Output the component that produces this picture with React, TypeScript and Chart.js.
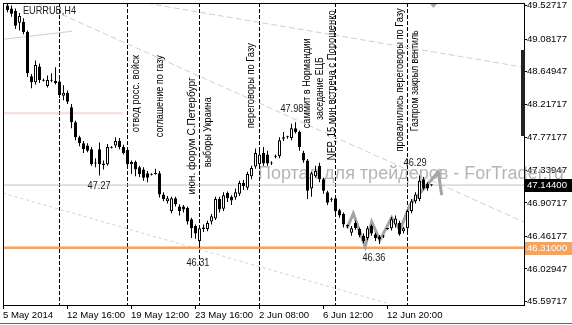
import React, { useEffect, useRef } from 'react';
import { Chart, registerables } from 'chart.js';

Chart.register(...registerables);

const symbolTitle = 'EURRUB,H4';
const watermark = 'Портал для трейдеров - ForTrader.ru';

// H4 candles (bar index = position)
const opens = [
  49.53, 49.49, 49.46, 49.30, 49.31, 49.18, 48.59, 48.51, 48.72, 48.54,
  48.46, 48.54, 48.53, 48.52, 48.33, 48.37, 48.18, 47.98, 47.78, 47.70,
  47.67, 47.62, 47.43, 47.62, 47.41, 47.42, 47.65, 47.67, 47.73, 47.65,
  47.61, 47.42, 47.45, 47.38, 47.35, 47.30, 47.29, 47.29, 47.30, 47.02,
  46.93, 46.80, 46.97, 46.86, 46.86, 46.84, 46.69, 46.60, 46.40, 46.58,
  46.56, 46.66, 46.70, 46.96, 46.83, 47.04, 46.99, 46.98, 47.03, 47.17,
  47.11, 47.26, 47.39, 47.42, 47.57, 47.55, 47.44, 47.52, 47.53, 47.76,
  47.78, 47.77, 47.90, 47.85, 47.57, 47.47, 47.10, 47.26, 47.40, 47.22,
  47.05, 46.95, 46.97, 46.81, 46.76, 46.60, 46.51, 46.64, 46.56, 46.47,
  46.44, 46.60, 46.49, 46.46, 46.47, 46.56, 46.57, 46.62, 46.64, 46.53,
  46.57, 46.80, 46.93, 46.96, 47.22, 47.16, 47.14,
];
const highs = [
  49.56, 49.53, 49.49, 49.43, 49.36, 49.20, 48.62, 48.80, 48.76, 48.56,
  48.60, 48.63, 48.71, 48.55, 48.47, 48.40, 48.22, 48.00, 47.80, 47.73,
  47.70, 47.65, 47.50, 47.71, 47.47, 47.69, 47.66, 47.78, 47.77, 47.68,
  47.63, 47.47, 47.47, 47.40, 47.38, 47.33, 47.30, 47.36, 47.33, 47.05,
  47.00, 46.99, 46.99, 46.89, 46.88, 46.86, 46.71, 46.62, 46.60, 46.62,
  46.67, 46.76, 46.99, 46.99, 47.05, 47.06, 47.01, 47.10, 47.20, 47.21,
  47.32, 47.40, 47.63, 47.65, 47.65, 47.60, 47.46, 47.55, 47.78, 47.85,
  47.80, 47.96, 47.98, 47.87, 47.60, 47.49, 47.32, 47.40, 47.44, 47.24,
  47.07, 46.98, 47.00, 46.83, 46.78, 46.62, 46.60, 46.67, 46.58, 46.50,
  46.60, 46.62, 46.51, 46.48, 46.48, 46.57, 46.72, 46.74, 46.67, 46.59,
  46.82, 46.96, 47.05, 47.27, 47.25, 47.18, 47.15,
];
const lows = [
  49.44, 49.38, 49.22, 49.20, 49.15, 48.58, 48.43, 48.48, 48.50, 48.52,
  48.44, 48.51, 48.48, 48.30, 48.27, 48.22, 47.90, 47.74, 47.66, 47.57,
  47.58, 47.40, 47.38, 47.27, 47.35, 47.40, 47.63, 47.64, 47.62, 47.55,
  47.40, 47.29, 47.26, 47.25, 47.20, 47.18, 47.27, 47.28, 46.98, 46.93,
  46.90, 46.77, 46.86, 46.74, 46.78, 46.62, 46.44, 46.43, 46.31, 46.52,
  46.53, 46.62, 46.68, 46.78, 46.80, 46.92, 46.88, 46.95, 47.00, 47.08,
  47.08, 47.22, 47.36, 47.40, 47.40, 47.40, 47.41, 47.50, 47.50, 47.73,
  47.76, 47.74, 47.83, 47.60, 47.44, 46.96, 46.99, 47.24, 47.18, 47.03,
  46.88, 46.92, 46.76, 46.71, 46.58, 46.57, 46.47, 46.55, 46.45, 46.37,
  46.41, 46.47, 46.40, 46.36, 46.44, 46.55, 46.54, 46.58, 46.47, 46.50,
  46.52, 46.77, 46.90, 46.93, 47.08, 47.07, 47.13,
];
const closes = [
  49.47, 49.42, 49.26, 49.39, 49.18, 48.63, 48.51, 48.74, 48.54, 48.53,
  48.54, 48.53, 48.50, 48.34, 48.37, 48.25, 47.98, 47.78, 47.70, 47.62,
  47.60, 47.42, 47.44, 47.42, 47.43, 47.65, 47.64, 47.73, 47.65, 47.57,
  47.42, 47.45, 47.35, 47.29, 47.24, 47.24, 47.28, 47.30, 47.02, 46.96,
  46.97, 46.97, 46.89, 46.80, 46.82, 46.66, 46.57, 46.50, 46.57, 46.56,
  46.64, 46.73, 46.96, 46.82, 47.01, 46.97, 46.94, 47.05, 47.17, 47.13,
  47.29, 47.37, 47.57, 47.55, 47.43, 47.43, 47.43, 47.53, 47.74, 47.78,
  47.78, 47.90, 47.85, 47.65, 47.47, 47.07, 47.30, 47.33, 47.22, 47.07,
  46.91, 46.96, 46.80, 46.74, 46.62, 46.60, 46.57, 46.57, 46.48, 46.40,
  46.57, 46.50, 46.44, 46.42, 46.46, 46.56, 46.69, 46.70, 46.49, 46.57,
  46.80, 46.93, 47.02, 47.20, 47.10, 47.10, 47.144,
];

// axes
const xMin = -1.125;
const xMax = 129.125;
const yMin = 45.55;
const yMax = 49.564;
const yTickValues = [49.52717, 49.08177, 48.64947, 48.21717, 47.77177, 47.33947, 46.90717, 46.46177, 46.02947, 45.59717];
const xTickBars = [-1.125, 14.875, 30.875, 46.875, 62.875, 78.875, 94.875];
const xTickLabels = ['5 May 2014', '12 May 16:00', '19 May 12:00', '23 May 16:00', '2 Jun 08:00', '6 Jun 12:00', '12 Jun 20:00'];

// price levels
const bidPrice = 47.144;
const supportPrice = 46.31;
const pinkLevel = 48.10;
const pinkEndBar = 28.9;

// trend lines [bar, price]
const trendA = [[34.875, 49.56], [129.125, 48.71]];
const trendB = [[7.375, 49.56], [129.125, 46.652]];
const trendC = [[-1.125, 49.082], [16.125, 49.188]];
const trendD = [[-1.125, 47.037], [95.625, 45.563]];

// zigzag overlay
const zigBars = [84.9, 86.45, 89.4, 91.05, 93.1, 96.05, 98.1, 100.6, 107.7, 108.55];
const zigPrices = [46.572, 46.767, 46.324, 46.656, 46.413, 46.714, 46.546, 46.878, 47.32, 47.01];

// event markers
const eventBars = [13, 30, 48, 63, 82, 100];
const noteTexts = [
  'отвод росс. войск',
  'соглашение по газу',
  'июн. форум С.Петербург',
  'выборы Украина',
  'переговоры по Газу',
  'саммит в Нормандии',
  'заседание ЕЦБ',
  'NFP, 15 мин встреча с Порошенко',
  'провалились переговоры по Газу',
  'Газпром закрыл вентиль',
];
const noteBars = [32.1, 38.1, 46.1, 50.1, 60.9, 74.9, 78.1, 81.05, 98.1, 101.9];
const noteFrom = [47.847, 47.78, 47.02, 47.38, 47.9, 47.9, 48.01, 47.475, 47.59, 47.86];
const noteTo = [48.87, 48.87, 48.578, 48.312, 49.03, 49.095, 48.843, 49.467, 49.494, 49.2];

// price annotations
const levelTexts = ['47.27', '46.31', '47.98', '46.36', '46.29'];
const levelBars = [22.9, 47.6, 71.1, 91.6, 101.9];
const levelPrices = [47.13, 46.107, 48.153, 46.174, 47.435];

const W = 572;
const H = 325;

export default function App() {
  const canvasRef = useRef<HTMLCanvasElement | null>(null);

  useEffect(() => {
    const canvas = canvasRef.current;
    if (!canvas) return;
    const FONT = '"Liberation Sans", Arial, sans-serif';
    const idx = opens.map((_, i) => i);
    const bodyColors = idx.map((i) => (closes[i] > opens[i] ? '#ffffff' : '#000000'));

    const lineDs = (pts: number[][], color: string, width: number, dash: number[], order: number) => ({
      type: 'line',
      data: pts.map(([x, y]) => ({ x, y })),
      borderColor: color,
      borderWidth: width,
      borderDash: dash,
      pointRadius: 0,
      fill: false,
      tension: 0,
      order,
    });

    const resetPad = (s: any) => {
      s.paddingLeft = 0;
      s.paddingRight = 0;
      s.paddingTop = 0;
      s.paddingBottom = 0;
    };

    const overlay = {
      id: 'mt4overlay',
      beforeDatasetsDraw(chart: any) {
        const { ctx, chartArea: a, scales } = chart;
        const x = scales.x;
        ctx.save();
        ctx.font = `18px ${FONT}`;
        ctx.fillStyle = 'rgba(150,150,150,0.7)';
        ctx.textBaseline = 'middle';
        ctx.textAlign = 'left';
        ctx.fillText(watermark, 258, 174);
        ctx.strokeStyle = '#000';
        ctx.lineWidth = 1;
        ctx.setLineDash([4, 2]);
        eventBars.forEach((b) => {
          const px = Math.floor(x.getPixelForValue(b)) + 0.5;
          ctx.beginPath();
          ctx.moveTo(px, a.top);
          ctx.lineTo(px, a.bottom);
          ctx.stroke();
        });
        ctx.restore();
      },
      afterDatasetsDraw(chart: any) {
        const { ctx, scales } = chart;
        const x = scales.x;
        const y = scales.y;
        ctx.save();
        ctx.fillStyle = '#000';
        ctx.font = `11px ${FONT}`;
        ctx.textAlign = 'left';
        ctx.textBaseline = 'middle';
        noteTexts.forEach((t, i) => {
          const px = x.getPixelForValue(noteBars[i]);
          const y0 = y.getPixelForValue(noteFrom[i]);
          const y1 = y.getPixelForValue(noteTo[i]);
          ctx.save();
          ctx.translate(px, y0);
          ctx.rotate(-Math.PI / 2);
          ctx.fillText(t, 0, 0, y0 - y1);
          ctx.restore();
        });
        ctx.fillStyle = '#1a1a1a';
        ctx.font = `11px ${FONT}`;
        ctx.textAlign = 'center';
        levelTexts.forEach((t, i) => {
          ctx.fillText(t, x.getPixelForValue(levelBars[i]), y.getPixelForValue(levelPrices[i]), 23);
        });
        ctx.textAlign = 'left';
        ctx.fillStyle = '#222';
        ctx.font = `11px ${FONT}`;
        ctx.fillText(symbolTitle, 23, 10.5, 53);
        ctx.restore();
      },
      afterDraw(chart: any) {
        const { ctx, chartArea: a, scales } = chart;
        const y = scales.y;
        ctx.save();
        ctx.font = `9.6px ${FONT}`;
        ctx.textBaseline = 'middle';
        ctx.textAlign = 'left';
        const box = (price: number, bg: string, label: string) => {
          const py = Math.round(y.getPixelForValue(price));
          ctx.fillStyle = bg;
          ctx.fillRect(a.right + 1, py - 6, W - a.right - 1, 13);
          ctx.fillStyle = '#fff';
          ctx.fillText(label, a.right + 3, py + 0.5);
        };
        box(bidPrice, '#000', bidPrice.toFixed(5));
        box(supportPrice, '#F4A460', supportPrice.toFixed(5));
        // chart frame
        ctx.strokeStyle = '#000';
        ctx.lineWidth = 1;
        ctx.strokeRect(a.left + 0.5, a.top + 0.5, a.right - a.left, a.bottom - a.top);
        ctx.strokeStyle = '#666';
        ctx.beginPath();
        ctx.moveTo(0, H - 1.5);
        ctx.lineTo(W, H - 1.5);
        ctx.stroke();
        // scroll marker on price axis
        ctx.fillStyle = '#222';
        ctx.fillRect(a.right - 3, 50, 4, 86);
        // chart shift marker
        ctx.fillStyle = '#a8a8a8';
        ctx.beginPath();
        ctx.moveTo(430, a.top + 1);
        ctx.lineTo(437, a.top + 1);
        ctx.lineTo(433.5, a.top + 5);
        ctx.closePath();
        ctx.fill();
        ctx.restore();
      },
    };

    const chart = new Chart(canvas, {
      type: 'bar',
      data: {
        datasets: [
          {
            type: 'bar',
            data: idx.map((i) => ({ x: i, y: [opens[i], closes[i]] })),
            backgroundColor: bodyColors,
            borderColor: '#000',
            borderWidth: 1,
            borderSkipped: false,
            barThickness: 3,
            minBarLength: 1,
            grouped: false,
            inflateAmount: 0,
            order: 0,
          },
          {
            type: 'bar',
            data: idx.map((i) => ({ x: i, y: [lows[i], highs[i]] })),
            backgroundColor: '#000',
            borderWidth: 0,
            barThickness: 1,
            grouped: false,
            inflateAmount: 0,
            order: 1,
          },
          {
            type: 'line',
            data: zigBars.map((b, i) => ({ x: b, y: zigPrices[i] })),
            borderColor: '#a4a4a4',
            borderWidth: 3,
            pointRadius: 0,
            fill: false,
            tension: 0,
            order: 2,
          },
          lineDs([[xMin, supportPrice], [xMax, supportPrice]], '#F4A460', 2.5, [], 3),
          lineDs([[xMin, bidPrice], [xMax, bidPrice]], '#c0c0c0', 1, [], 4),
          lineDs([[xMin, pinkLevel], [pinkEndBar, pinkLevel]], 'rgba(245,185,185,0.55)', 2, [], 5),
          lineDs(trendA, '#cfcfcf', 1, [6, 3], 6),
          lineDs(trendB, '#cfcfcf', 1, [6, 3], 6),
          lineDs(trendC, '#cfcfcf', 1, [], 6),
          lineDs(trendD, '#cfcfcf', 1, [3, 3], 6),
        ],
      },
      options: {
        responsive: false,
        animation: false,
        events: [],
        layout: { padding: { left: 3, top: 3, right: 0, bottom: 0 } },
        plugins: { legend: { display: false }, tooltip: { enabled: false } },
        scales: {
          x: {
            type: 'linear',
            min: xMin,
            max: xMax,
            offset: false,
            afterBuildTicks: (s: any) => {
              s.ticks = xTickBars.map((v) => ({ value: v }));
            },
            afterFit: (s: any) => {
              s.height = 20;
              resetPad(s);
            },
            ticks: {
              autoSkip: false,
              maxRotation: 0,
              minRotation: 0,
              align: 'start',
              padding: 1,
              color: '#000',
              font: { family: FONT, size: 9.6 },
              callback: (_v: any, i: number) => xTickLabels[i] ?? '',
            },
            grid: { drawOnChartArea: false, tickLength: 4, color: '#000', offset: false },
            border: { display: true, color: '#000' },
          },
          y: {
            type: 'linear',
            position: 'right',
            min: yMin,
            max: yMax,
            afterBuildTicks: (s: any) => {
              s.ticks = yTickValues.map((v) => ({ value: v }));
            },
            afterFit: (s: any) => {
              s.width = 48;
              resetPad(s);
            },
            ticks: {
              autoSkip: false,
              padding: 0,
              color: '#000',
              font: { family: FONT, size: 9.6 },
              callback: (v: any) => Number(v).toFixed(5),
            },
            grid: { drawOnChartArea: false, tickLength: 3, color: '#000' },
            border: { display: true, color: '#000' },
          },
        },
      },
      plugins: [overlay],
    } as any);

    return () => chart.destroy();
  }, []);

  return (
    <div style={{ position: 'fixed', left: 0, top: 0, width: W, height: H, background: '#fff' }}>
      <canvas ref={canvasRef} width={W} height={H} style={{ display: 'block' }} />
    </div>
  );
}
